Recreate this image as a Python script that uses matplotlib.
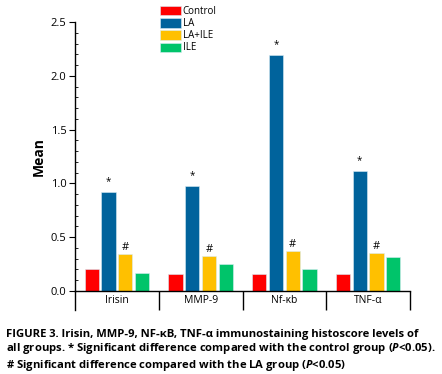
import numpy as np
import matplotlib.pyplot as plt
from matplotlib.ticker import MultipleLocator

plt.rcParams["font.family"] = ["Open Sans", "DejaVu Sans"]
plt.rcParams["mathtext.fontset"] = "custom"
plt.rcParams["mathtext.it"] = "Open Sans:italic:bold"

# Histoscore means
categories = ["Irisin", "MMP-9", "Nf-\u03bab", "TNF-\u03b1"]
groups = ["Control", "LA", "LA+ILE", "ILE"]
control = [0.20, 0.155, 0.155, 0.155]
la = [0.917, 0.973, 2.19, 1.115]
la_ile = [0.344, 0.328, 0.375, 0.356]
ile = [0.164, 0.251, 0.20, 0.313]
colors = ["#FF0000", "#00639C", "#FFC000", "#00C46A"]

series = [control, la, la_ile, ile]

fig = plt.figure(figsize=(4.42, 3.74), dpi=100)
ax = fig.add_axes([75 / 442, 1 - 291 / 374, 335 / 442, 269 / 374])

x = np.arange(len(categories))
width = 0.173
step = 0.2
for i, (vals, name, col) in enumerate(zip(series, groups, colors)):
    ax.bar(x + (i - 1.5) * step, vals, width, color=col, label=name,
           edgecolor="#d8ecf4", linewidth=0.4)

# significance marks
for xi, v in zip(x, la):
    ax.text(xi - 0.5 * step, v + 0.05, "*", ha="center", va="bottom",
            fontsize=7)
for xi, v in zip(x, la_ile):
    ax.text(xi + 0.5 * step, v + 0.01, "#", ha="center", va="bottom",
            fontsize=8)

ax.set_xlim(-0.5, len(categories) - 0.5)
ax.set_ylim(0, 2.5)
ax.yaxis.set_major_locator(MultipleLocator(0.5))
ax.yaxis.set_minor_locator(MultipleLocator(0.1))
ax.yaxis.set_major_formatter(plt.FormatStrFormatter("%.1f"))
ax.tick_params(axis="y", which="major", direction="out", length=4,
               width=0.8, labelsize=8, pad=2)
ax.tick_params(axis="y", which="minor", direction="in", length=2.5,
               width=0.6)
ax.set_ylabel("Mean", fontsize=10, fontweight="bold", labelpad=4)

for s in ["top", "right"]:
    ax.spines[s].set_visible(False)
ax.spines["left"].set_bounds(0, 2.5)
ax.spines["left"].set_linewidth(1.0)
ax.spines["bottom"].set_linewidth(1.0)

# category divider lines below the axis
ax.set_xticks([])
drop = 19 / 269
ax.plot([0, 0], [0, -drop], transform=ax.transAxes, color="black",
        lw=1.0, clip_on=False)
for k in range(1, len(categories) + 1):
    xx = -0.5 + k
    ax.plot([xx, xx], [0, -drop * 2.5], color="black", lw=1.0,
            clip_on=False, solid_capstyle="butt")
for xi, c in zip(x, categories):
    ax.text(xi, -drop * 2.5 / 2, c, ha="center", va="center", fontsize=7.5,
            clip_on=False)

fig.legend(loc="upper left", bbox_to_anchor=(160 / 442, 1 - 6 / 374),
           frameon=False, fontsize=7, handlelength=2.2,
           handleheight=1.1, handletextpad=0.15, labelspacing=0.12,
           borderpad=0, borderaxespad=0)

caption = ("FIGURE 3. Irisin, MMP-9, NF-\u03baB, TNF-\u03b1 immunostaining histoscore levels of\n"
           "all groups. * Significant difference compared with the control group ($\\it{P}$<0.05).\n"
           "# Significant difference compared with the LA group ($\\it{P}$<0.05)")
fig.text(6 / 442, 1 - 329 / 374, caption, ha="left", va="top", fontsize=8.1,
         fontweight="bold", linespacing=1.15)

fig.savefig("out.png", dpi=100)
